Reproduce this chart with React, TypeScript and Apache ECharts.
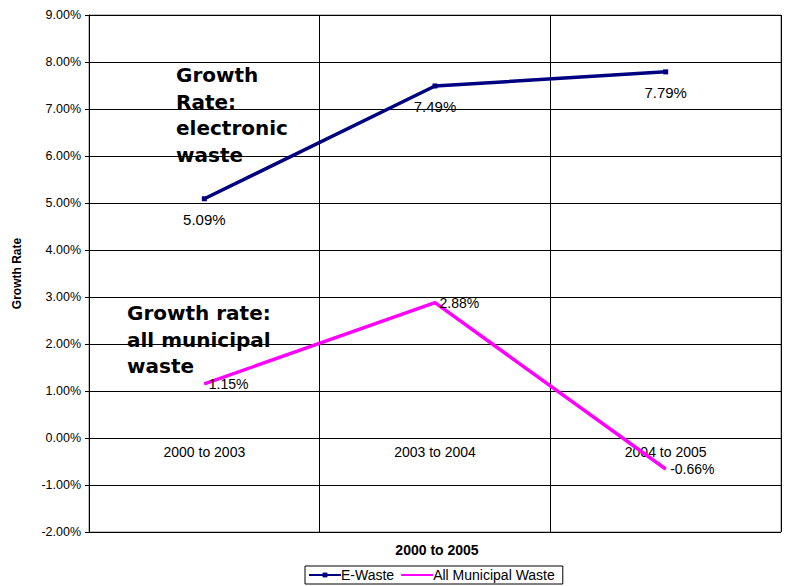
import React, { useEffect, useRef } from "react";
import * as echarts from "echarts";

const categories = ["2000 to 2003", "2003 to 2004", "2004 to 2005"];
const eWaste = [5.09, 7.49, 7.79];
const municipal = [1.15, 2.88, -0.66];
const yMin = -2;
const yMax = 9;
const yStep = 1;

const FONT = "Liberation Sans, Arial, sans-serif";
const BOLD_FONT = "DejaVu Sans, Verdana, sans-serif";

export default function App() {
  const ref = useRef<HTMLDivElement>(null);
  useEffect(() => {
    document.body.style.margin = "0";
    const chart = echarts.init(ref.current!, null, { renderer: "svg" });
    chart.setOption({
      animation: false,
      textStyle: { fontFamily: FONT },
      grid: { left: 89, right: 5, top: 15, bottom: 54, show: true, borderColor: "#808080", borderWidth: 1 },
      xAxis: {
        type: "category",
        data: categories,
        boundaryGap: true,
        axisLine: { show: false, onZero: false },
        axisTick: { show: false },
        axisLabel: { color: "#000", fontSize: 14, margin: -87, fontFamily: FONT },
        splitLine: { show: true, lineStyle: { color: "#000", width: 1 } },
      },
      yAxis: {
        type: "value",
        min: yMin,
        max: yMax,
        interval: yStep,
        name: "Growth Rate",
        nameLocation: "middle",
        nameGap: 66,
        nameTextStyle: { color: "#000", fontWeight: "bold", fontSize: 12, fontFamily: FONT },
        axisLine: { show: true, lineStyle: { color: "#000", width: 1 } },
        axisTick: { show: true, length: 4, lineStyle: { color: "#000" } },
        axisLabel: { color: "#000", fontSize: 12.5, margin: 8, formatter: (v: number) => v.toFixed(2) + "%", fontFamily: FONT },
        splitLine: { show: true, lineStyle: { color: "#000", width: 1 } },
      },
      legend: {
        top: 566,
        left: 305,
        itemWidth: 32,
        itemHeight: 6,
        itemGap: 6,
        padding: [2, 8, 2, 3],
        borderColor: "#000",
        borderWidth: 1,
        borderRadius: 0,
        textStyle: { color: "#000", fontSize: 14, fontFamily: FONT, padding: [0, 0, 0, -5] },
        data: [
          { name: "E-Waste" },
          { name: "All Municipal Waste", itemStyle: { opacity: 0 } },
        ],
      },
      series: [
        {
          name: "E-Waste",
          type: "line",
          data: eWaste,
          color: "#000080",
          lineStyle: { width: 3.5, color: "#000080" },
          symbol: "rect",
          symbolSize: 5,
          itemStyle: { color: "#000080" },
          label: {
            show: true,
            position: "bottom",
            distance: 11,
            color: "#000",
            fontSize: 15,
            fontFamily: FONT,
            formatter: (p: any) => p.value.toFixed(2) + "%",
          },
        },
        {
          name: "All Municipal Waste",
          type: "line",
          data: municipal,
          color: "#FF00FF",
          lineStyle: { width: 3.5, color: "#FF00FF" },
          symbol: "circle",
          symbolSize: 1,
          showSymbol: true,
          itemStyle: { color: "#FF00FF" },
          label: {
            show: true,
            position: "right",
            distance: 4,
            color: "#000",
            fontSize: 14,
            fontFamily: FONT,
            formatter: (p: any) => p.value.toFixed(2) + "%",
          },
        },
      ],
      graphic: [
        {
          type: "text",
          x: 176,
          y: 62,
          style: {
            text: "Growth\nRate:\nelectronic\nwaste",
            font: "bold 20px " + BOLD_FONT,
            lineHeight: 26.5,
            fill: "#000",
          },
        },
        {
          type: "text",
          x: 127,
          y: 300,
          style: {
            text: "Growth rate:\nall municipal\nwaste",
            font: "bold 20px " + BOLD_FONT,
            lineHeight: 26.5,
            fill: "#000",
          },
        },
        {
          type: "text",
          x: 437,
          y: 550,
          style: {
            text: "2000 to 2005",
            font: "bold 14px " + FONT,
            fill: "#000",
            align: "center",
            verticalAlign: "middle",
          },
        },
      ],
    });
    return () => chart.dispose();
  }, []);
  return <div ref={ref} style={{ width: 786, height: 586 }} />;
}
